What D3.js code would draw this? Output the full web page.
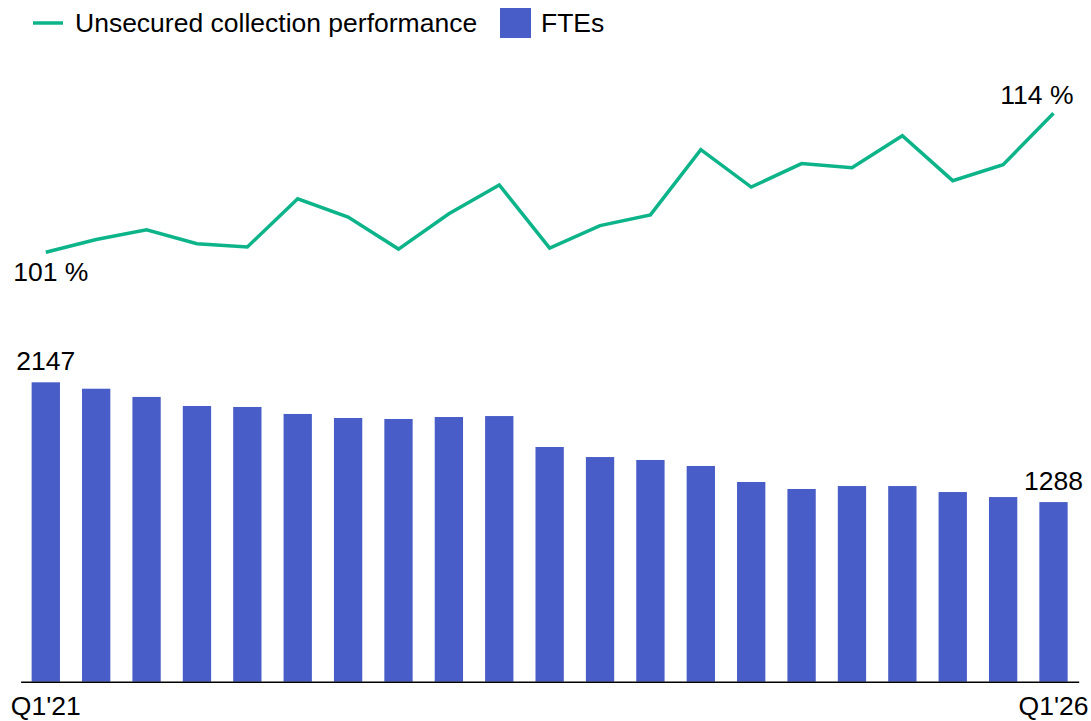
<!DOCTYPE html>
<html><head><meta charset="utf-8">
<script src="https://cdn.jsdelivr.net/npm/d3@7"></script>
<style>html,body{margin:0;padding:0;background:#fff}svg{display:block;font-family:"Liberation Sans",Arial,sans-serif}</style>
</head><body>
<svg id="chart" width="1091" height="721"></svg>
<script>
const quarters = ["Q1'21","Q2'21","Q3'21","Q4'21","Q1'22","Q2'22","Q3'22","Q4'22","Q1'23","Q2'23","Q3'23","Q4'23","Q1'24","Q2'24","Q3'24","Q4'24","Q1'25","Q2'25","Q3'25","Q4'25","Q1'26"];
const ftes = [2147,2101,2042,1977,1970,1920,1891,1884,1898,1905,1683,1611,1590,1547,1432,1382,1403,1403,1360,1324,1288];
const collectionPerf = [101.0,102.2,103.1,101.8,101.5,106.0,104.3,101.3,104.6,107.3,101.4,103.5,104.5,110.6,107.1,109.3,108.9,111.9,107.7,109.2,114.0];
const tickLabels = ["Q1'21","Q1'26"];
const seriesNames = ["Unsecured collection performance","FTEs"];

const green = "#0db48a", blue = "#485dc7";
const svg = d3.select("#chart");
const fs = 26.5;

const x = d3.scaleBand().domain(quarters).range([20.6, 1078.7]).paddingInner(0.438).paddingOuter(0.219);
const yBar = d3.scaleLinear().domain([0, 2147]).range([681.7, 382.3]);
const yLine = d3.scaleLinear().domain([101, 114]).range([252.3, 113.3]);

// bars
svg.append("g").selectAll("rect").data(ftes).join("rect")
  .attr("x", (d,i) => x(quarters[i]))
  .attr("width", x.bandwidth())
  .attr("y", d => yBar(d))
  .attr("height", d => yBar(0) - yBar(d))
  .attr("fill", blue);

// baseline axis
const xAxis = d3.axisBottom(x).tickValues(tickLabels).tickSize(0).tickPadding(0);
const axisG = svg.append("g").attr("transform", `translate(0,${yBar(0)})`).call(xAxis);
axisG.select(".domain").attr("stroke", "#000").attr("stroke-width", 1.5);
axisG.selectAll(".tick text").attr("font-size", fs).attr("fill", "#000")
  .attr("font-family", "Liberation Sans, Arial, sans-serif")
  .attr("dy", null).attr("y", 33);

// line
const line = d3.line().x((d,i) => x(quarters[i]) + x.bandwidth()/2).y(d => yLine(d));
svg.append("path").datum(collectionPerf)
  .attr("d", line).attr("fill", "none").attr("stroke", green)
  .attr("stroke-width", 3.5).attr("stroke-linejoin", "miter");

const cx = i => x(quarters[i]) + x.bandwidth()/2;
const last = quarters.length - 1;
const fmtPct = d => d3.format(".0f")(d) + " %";

// line labels
svg.append("text").attr("x", cx(0) + 5).attr("y", yLine(collectionPerf[0]) + 29)
  .attr("text-anchor", "middle").attr("font-size", fs).text(fmtPct(collectionPerf[0]));
svg.append("text").attr("x", cx(last) + 20).attr("y", yLine(collectionPerf[last]) - 9)
  .attr("text-anchor", "end").attr("font-size", fs).text(fmtPct(collectionPerf[last]));

// bar labels
svg.append("text").attr("x", cx(0)).attr("y", yBar(ftes[0]) - 12)
  .attr("text-anchor", "middle").attr("font-size", fs).text(ftes[0]);
svg.append("text").attr("x", cx(last)).attr("y", yBar(ftes[last]) - 12)
  .attr("text-anchor", "middle").attr("font-size", fs).text(ftes[last]);

// legend
const lg = svg.append("g");
lg.append("line").attr("x1", 33).attr("x2", 63).attr("y1", 23).attr("y2", 23)
  .attr("stroke", green).attr("stroke-width", 3.5);
lg.append("text").attr("x", 75).attr("y", 32).attr("font-size", fs).text(seriesNames[0]);
lg.append("rect").attr("x", 500).attr("y", 8).attr("width", 31).attr("height", 30).attr("fill", blue);
lg.append("text").attr("x", 541).attr("y", 32).attr("font-size", fs).text(seriesNames[1]);
</script>
</body></html>
